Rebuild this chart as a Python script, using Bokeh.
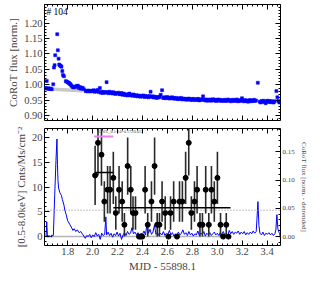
from bokeh.plotting import figure
from bokeh.layouts import column
from bokeh.models import (Range1d, LinearAxis, FixedTicker, PrintfTickFormatter,
                          ColumnDataSource, Span, Label, CustomLabelingPolicy)
from bokeh.embed import file_html
from bokeh.resources import INLINE
from bokeh.core.properties import value

FONT = "Liberation Serif"

# ---------------- data ----------------
# top panel: CoRoT light curve (normalised flux)
top_x = [1.618, 1.625, 1.632, 1.640, 1.648, 1.656, 1.664, 1.672, 1.684,
         1.690, 1.695, 1.700, 1.716, 1.721, 1.727, 1.732, 1.738, 1.744, 1.750,
         1.757, 1.762, 1.770, 1.785, 1.792, 1.799, 1.806, 1.812, 1.818, 1.824,
         1.830, 1.840, 1.848, 1.856, 1.866, 1.875, 1.882, 1.890, 1.898, 1.905,
         1.912, 1.920, 1.930, 1.944, 1.952, 1.960, 1.968, 1.976, 1.984, 1.992,
         2.000, 2.008, 2.016, 2.024, 2.032, 2.040, 2.048, 2.058, 2.066, 2.074,
         2.082, 2.090, 2.098, 2.106, 2.112, 2.120, 2.128, 2.136, 2.144, 2.152,
         2.160, 2.168, 2.176, 2.184, 2.192, 2.200, 2.208, 2.216, 2.224, 2.232,
         2.240, 2.248, 2.256, 2.264, 2.272, 2.280, 2.288, 2.296, 2.304, 2.312,
         2.320, 2.328, 2.336, 2.344, 2.352, 2.360, 2.368, 2.376, 2.384, 2.392,
         2.400, 2.408, 2.416, 2.424, 2.432, 2.440, 2.448, 2.456, 2.465, 2.474,
         2.482, 2.490, 2.498, 2.506, 2.514, 2.522, 2.530, 2.538, 2.546, 2.557,
         2.566, 2.574, 2.582, 2.590, 2.598, 2.606, 2.614, 2.622, 2.630, 2.638,
         2.646, 2.654, 2.662, 2.670, 2.678, 2.686, 2.694, 2.702, 2.710, 2.718,
         2.726, 2.734, 2.742, 2.750, 2.758, 2.766, 2.774, 2.782, 2.790, 2.798,
         2.806, 2.814, 2.822, 2.830, 2.838, 2.846, 2.854, 2.862, 2.870, 2.878,
         2.886, 2.894, 2.902, 2.910, 2.918, 2.926, 2.934, 2.942, 2.950, 2.958,
         2.966, 2.974, 2.982, 2.990, 2.998, 3.006, 3.014, 3.022, 3.030, 3.038,
         3.046, 3.054, 3.062, 3.070, 3.078, 3.086, 3.094, 3.102, 3.110, 3.118,
         3.126, 3.134, 3.142, 3.150, 3.158, 3.166, 3.174, 3.182, 3.190, 3.198,
         3.206, 3.214, 3.222, 3.230, 3.238, 3.246, 3.254, 3.262, 3.270, 3.278,
         3.286, 3.294, 3.302, 3.310, 3.325, 3.340, 3.348, 3.356, 3.364, 3.372,
         3.380, 3.388, 3.396, 3.404, 3.412, 3.420, 3.428, 3.436, 3.444, 3.452,
         3.460, 3.474, 3.482, 3.490, 3.498]
top_flux = [0.989, 0.990, 1.013, 0.988, 0.989, 0.987, 0.988, 0.986, 1.002,
            1.056, 1.064, 1.096, 1.164, 1.112, 1.085, 1.066, 1.063, 1.061, 1.059,
            1.045, 1.032, 1.028, 1.012, 1.011, 1.009, 1.007, 1.006, 1.003, 1.001,
            0.997, 0.993, 0.992, 0.995, 0.993, 0.997, 0.997, 0.990, 0.993, 0.988,
            0.989, 0.991, 0.986, 0.980, 0.981, 0.979, 0.982, 0.980, 0.979, 0.981,
            0.980, 0.983, 0.978, 0.981, 0.979, 0.984, 0.977, 0.990, 0.975, 0.978,
            0.974, 0.977, 0.976, 0.975, 1.009, 0.977, 0.973, 0.978, 0.974, 0.976,
            0.972, 0.976, 0.973, 0.971, 0.974, 0.972, 0.975, 0.970, 0.971, 0.974,
            0.968, 0.972, 0.969, 0.967, 0.970, 0.966, 0.969, 0.972, 0.966, 0.968,
            0.965, 0.969, 0.966, 0.964, 0.967, 0.963, 0.966, 0.964, 0.962, 0.965,
            0.963, 0.966, 0.961, 0.964, 0.962, 0.963, 0.960, 0.964, 0.978, 0.961,
            0.963, 0.959, 0.962, 0.960, 0.958, 0.961, 0.959, 0.962, 0.968, 0.983,
            0.958, 0.960, 0.957, 0.959, 0.961, 0.958, 0.956, 0.959, 0.957, 0.960,
            0.956, 0.958, 0.955, 0.958, 0.956, 0.954, 0.957, 0.955, 0.958, 0.953,
            0.956, 0.954, 0.955, 0.952, 0.955, 0.953, 0.956, 0.952, 0.954, 0.951,
            0.955, 0.953, 0.951, 0.954, 0.952, 0.955, 0.950, 0.953, 0.951, 0.954,
            0.963, 0.952, 0.950, 0.953, 0.949, 0.952, 0.950, 0.953, 0.949, 0.951,
            0.954, 0.950, 0.952, 0.948, 0.951, 0.953, 0.949, 0.952, 0.950, 0.948,
            0.951, 0.949, 0.952, 0.948, 0.950, 0.953, 0.949, 0.951, 0.947, 0.950,
            0.952, 0.948, 0.951, 0.949, 0.953, 0.947, 0.950, 0.948, 0.951, 0.957,
            0.949, 0.947, 0.951, 0.948, 0.950, 0.946, 0.949, 0.951, 0.947, 0.950,
            0.948, 0.952, 0.948, 0.950, 1.007, 0.946, 0.943, 0.948, 0.946, 0.949,
            0.945, 0.941, 0.947, 0.949, 0.945, 0.948, 0.944, 0.947, 0.946, 0.943,
            0.947, 0.980, 0.960, 0.948, 0.943]

# grey pre-flare trend segment in the top panel
trend_x = [1.614, 1.92]
trend_y = [0.988, 0.981]

# bottom panel: detrended CoRoT flux (right axis)
det_x = [1.614, 1.620, 1.627, 1.632, 1.637, 1.643, 1.650, 1.656, 1.662, 1.668,
         1.674, 1.680, 1.685, 1.696, 1.706, 1.714, 1.718, 1.722, 1.727, 1.737,
         1.750, 1.757, 1.770, 1.777, 1.788, 1.800, 1.816, 1.829, 1.842, 1.852,
         1.865, 1.877, 1.892, 1.905, 1.923, 1.941, 1.953, 1.965, 1.977, 1.989,
         2.001, 2.013, 2.025, 2.037, 2.049, 2.061, 2.073, 2.085, 2.097, 2.106,
         2.112, 2.124, 2.136, 2.148, 2.160, 2.172, 2.184, 2.196, 2.208, 2.220,
         2.232, 2.244, 2.256, 2.268, 2.280, 2.292, 2.304, 2.316, 2.328, 2.340,
         2.352, 2.364, 2.376, 2.388, 2.400, 2.412, 2.424, 2.436, 2.448, 2.460,
         2.472, 2.484, 2.496, 2.508, 2.520, 2.532, 2.544, 2.556, 2.568, 2.580,
         2.592, 2.604, 2.616, 2.628, 2.640, 2.652, 2.664, 2.676, 2.688, 2.700,
         2.712, 2.724, 2.736, 2.748, 2.760, 2.772, 2.784, 2.796, 2.808, 2.820,
         2.832, 2.844, 2.856, 2.868, 2.880, 2.892, 2.904, 2.916, 2.928, 2.940,
         2.952, 2.964, 2.976, 2.988, 3.000, 3.012, 3.024, 3.036, 3.048, 3.060,
         3.072, 3.084, 3.096, 3.108, 3.120, 3.132, 3.144, 3.156, 3.168, 3.180,
         3.192, 3.204, 3.216, 3.228, 3.240, 3.252, 3.264, 3.276, 3.288, 3.300,
         3.312, 3.318, 3.326, 3.334, 3.342, 3.354, 3.366, 3.378, 3.390, 3.402,
         3.414, 3.426, 3.438, 3.450, 3.462, 3.470, 3.478, 3.486, 3.494, 3.500,
         3.506]
det_flux = [0.002, 0.000, 0.001, 0.026, 0.003, -0.001, 0.002, 0.000, 0.001, -0.001,
            0.003, 0.001, 0.002, 0.074, 0.135, 0.173, 0.128, 0.100, 0.086, 0.078,
            0.073, 0.066, 0.056, 0.047, 0.039, 0.028, 0.022, 0.017, 0.011, 0.014,
            0.009, 0.012, 0.007, 0.009, 0.003, -0.003, 0.002, 0.000, 0.004, -0.002,
            0.003, 0.000, 0.007, 0.001, 0.004, -0.005, 0.006, 0.002, 0.004, 0.035,
            0.003, 0.008, 0.002, 0.006, -0.001, 0.005, 0.002, 0.008, 0.001, 0.006,
            -0.005, 0.003, 0.007, 0.002, 0.009, 0.004, 0.006, 0.016, 0.005, 0.008,
            0.003, 0.007, 0.001, 0.006, 0.004, 0.010, 0.003, 0.023, 0.006, 0.013,
            0.004, 0.008, 0.020, 0.004, 0.007, 0.002, 0.006, 0.003, 0.009, 0.002,
            0.006, 0.004, 0.011, 0.003, 0.007, 0.001, 0.005, 0.002, 0.008, 0.003,
            0.006, 0.012, 0.004, 0.007, 0.002, 0.009, 0.003, 0.006, 0.001, 0.005,
            0.003, 0.010, 0.002, 0.006, 0.004, 0.009, 0.001, 0.006, 0.003, 0.007,
            0.002, 0.005, 0.008, 0.003, 0.006, 0.002, 0.007, 0.004, 0.009, 0.003,
            0.006, 0.002, 0.011, 0.005, 0.009, 0.004, 0.008, 0.006, 0.010, 0.004,
            0.008, 0.005, 0.009, 0.003, 0.007, 0.004, 0.008, 0.005, 0.010, 0.006,
            0.009, 0.030, 0.062, 0.020, 0.006, 0.003, 0.008, 0.002, 0.006, 0.004,
            0.007, 0.003, 0.006, 0.002, 0.005, 0.012, 0.039, 0.014, 0.008, 0.006,
            -0.003]

# X-ray light curve (0.5-8.0 keV) binned rates and errors
xr_x = [2.020, 2.043, 2.071, 2.094, 2.120, 2.140, 2.166, 2.186, 2.212, 2.237,
        2.255, 2.281, 2.306, 2.324, 2.344, 2.372, 2.386, 2.398, 2.421, 2.442,
        2.472, 2.497, 2.518, 2.536, 2.557, 2.582, 2.608, 2.625, 2.650, 2.677,
        2.697, 2.720, 2.746, 2.771, 2.792, 2.817, 2.838, 2.861, 2.881, 2.907,
        2.932, 2.953, 2.976, 3.001, 3.026, 3.047, 3.072, 3.090]
xr_rate = [12.4, 19.0, 16.6, 7.1, 9.5, 9.5, 11.9, 4.8, 9.5, 7.1,
           2.4, 14.3, 9.5, 4.8, 4.8, 0.0, 0.0, 0.0, 9.5, 2.4,
           7.1, 14.3, 2.4, 2.4, 7.1, 4.8, 0.0, 4.8, 7.1, 0.0,
           7.1, 7.1, 11.9, 19.0, 4.8, 7.1, 9.5, 2.4, 2.4, 9.5,
           2.4, 9.5, 7.1, 11.9, 2.4, 0.0, 2.4, 0.0]
xr_err = [6.0, 6.6, 6.3, 4.1, 4.8, 4.8, 5.3, 3.4, 4.8, 4.1,
          2.4, 5.8, 4.8, 3.4, 3.4, 0.0, 0.0, 0.0, 4.8, 2.4,
          4.1, 5.8, 2.4, 2.4, 4.1, 3.4, 0.0, 3.4, 4.1, 0.0,
          4.1, 4.1, 5.3, 6.6, 3.4, 4.1, 4.8, 2.4, 2.4, 4.8,
          2.4, 4.8, 4.1, 5.3, 2.4, 0.0, 2.4, 0.0]

# Bayesian-block levels
block_start = [2.020, 2.166]
block_end = [2.166, 3.106]
block_rate = [13.0, 5.85]

# flare duration bar and annotation
flare_start = [2.010]
flare_end = [2.166]
flare_level = [20.3]
flare_text = "E_fl/L_0.5-8.0=0.172/0.013"

zero_x = [1.614, 3.10]
zero_y = [0.0, 0.0]
quiescent_level = 5.35

x_ticks = [1.8, 2.0, 2.2, 2.4, 2.6, 2.8, 3.0, 3.2, 3.4]
x_minor = [round(1.60 + 0.04 * i, 2) for i in range(49)]
top_ticks = [0.90, 0.95, 1.00, 1.05, 1.10, 1.15, 1.20]
top_minor = [round(0.89 + 0.01 * i, 2) for i in range(38)]
bot_ticks = [0, 5, 10, 15, 20]
bot_minor = list(range(-1, 22))
right_ticks = [0.00, 0.05, 0.10, 0.15]
right_minor = [round(-0.01 + 0.01 * i, 2) for i in range(21)]

X_RANGE = (1.614, 3.507)
TOP_RANGE = (0.885, 1.26)
BOT_RANGE = (-1.8, 21.9)
RIGHT_RANGE = (-1.8 * 0.00875, 21.9 * 0.00875)

W = 310
LB, RB = 44, 28

NO_LABELS = CustomLabelingPolicy(code="""
    const n = indices.size
    for (let i = 0; i < n; i++) { indices.unset(i) }
    return indices
""")


def make_axis(ticks, minor, show=True, fs="10.5px", fmt=None, label=None,
              label_fs="11px", range_name=None):
    kw = {}
    if range_name:
        kw["y_range_name"] = range_name
    ax = LinearAxis(ticker=FixedTicker(ticks=ticks, minor_ticks=minor), **kw)
    ax.major_tick_in = 5
    ax.major_tick_out = 0
    ax.minor_tick_in = 2
    ax.minor_tick_out = 0
    ax.axis_line_color = None
    ax.major_tick_line_color = "black"
    ax.minor_tick_line_color = "black"
    if fmt:
        ax.formatter = PrintfTickFormatter(format=fmt)
    if show:
        ax.major_label_text_font = FONT
        ax.major_label_text_font_size = fs
        ax.major_label_standoff = 2
    else:
        ax.major_label_policy = NO_LABELS
        ax.major_label_text_font_size = "1px"
        ax.major_label_standoff = 0
    if label:
        ax.axis_label = label
        ax.axis_label_text_font = FONT
        ax.axis_label_text_font_size = label_fs
        ax.axis_label_text_font_style = "normal"
        ax.axis_label_standoff = 2
    return ax


# ---------------- top panel ----------------
x_range = Range1d(*X_RANGE)
p1 = figure(width=W, height=124, x_range=x_range, y_range=Range1d(*TOP_RANGE),
            output_backend="svg", toolbar_location=None,
            x_axis_location=None, y_axis_location=None,
            min_border_left=LB, min_border_right=RB, min_border_top=1,
            min_border_bottom=0)
p1.grid.visible = False
p1.outline_line_color = "black"
p1.outline_line_width = 1

p1.add_layout(make_axis(top_ticks, top_minor, fmt="%.2f",
                        label="CoRoT flux [norm.]"), "left")
p1.add_layout(make_axis(top_ticks, top_minor, show=False), "right")
p1.add_layout(make_axis(x_ticks, x_minor, show=False), "above")
p1.add_layout(make_axis(x_ticks, x_minor, show=False), "below")

p1.line(trend_x, trend_y, line_color="#c8c8c8", line_width=3.5)
p1.scatter(top_x, top_flux, marker="square", size=3, fill_color="#0000ff",
           line_color="#0000ff", line_width=0.5)
p1.add_layout(Label(x=1.630, y=1.235, text="# 104", text_font=FONT,
                    text_font_size="9.5px", text_color="black",
                    text_baseline="middle"))

# ---------------- bottom panel ----------------
p2 = figure(width=W, height=151, x_range=x_range, y_range=Range1d(*BOT_RANGE),
            output_backend="svg", toolbar_location=None,
            x_axis_location=None, y_axis_location=None,
            min_border_left=LB, min_border_right=RB, min_border_top=0,
            min_border_bottom=30)
p2.extra_y_ranges = {"r": Range1d(*RIGHT_RANGE)}
p2.grid.visible = False
p2.outline_line_color = "black"
p2.outline_line_width = 1

p2.add_layout(make_axis(bot_ticks, bot_minor,
                        label="[0.5-8.0keV] Cnts/Ms/cm\u207b\u00b2"), "left")
p2.add_layout(make_axis(right_ticks, right_minor, fs="7px", fmt="%.2f",
                        label="CoRoT flux [norm. - detrended]", label_fs="7px",
                        range_name="r"), "right")
p2.add_layout(make_axis(x_ticks, x_minor, show=False), "above")
p2.add_layout(make_axis(x_ticks, x_minor, fmt="%.1f", label="MJD - 55898.1"),
              "below")

p2.line(zero_x, zero_y, line_color="#b4b4b4", line_width=1.5)
p2.add_layout(Span(location=quiescent_level, dimension="width",
                   line_color="#888888", line_dash="1 2", line_width=1))
p2.line(det_x, det_flux, y_range_name="r", line_color="#0000ff", line_width=1)

src = ColumnDataSource(dict(
    x=xr_x, y=xr_rate,
    lo=[r - e for r, e in zip(xr_rate, xr_err)],
    hi=[r + e for r, e in zip(xr_rate, xr_err)]))
p2.segment(x0="x", y0="lo", x1="x", y1="hi", source=src,
           line_color="#2a2a2a", line_width=1.6)
p2.segment(x0=block_start, y0=block_rate, x1=block_end, y1=block_rate,
           line_color="black", line_width=1.5)
p2.scatter("x", "y", source=src, marker="circle", size=5, fill_color="black",
           line_color="black")
p2.segment(x0=flare_start, y0=flare_level, x1=flare_end, y1=flare_level,
           line_color="violet", line_width=2)
p2.text(x=[2.043], y=[21.2], text=[flare_text], text_font=value(FONT),
        text_font_size="4px", text_color="#444444", text_baseline="middle")

layout = column(p1, p2, spacing=0)
open("out.html", "w").write(file_html(layout, INLINE))
